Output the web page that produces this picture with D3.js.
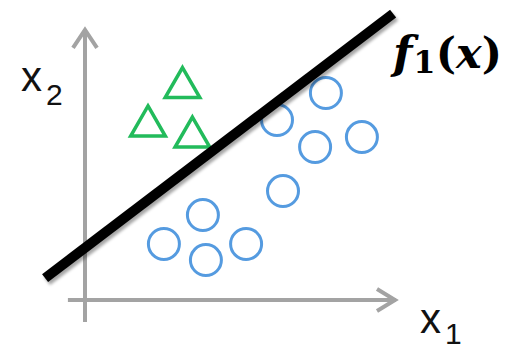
<!DOCTYPE html>
<html>
<head>
<meta charset="utf-8">
<script src="https://cdn.jsdelivr.net/npm/d3@7"></script>
<style>
  body { margin: 0; background: #fff; }
  svg { display: block; }
</style>
</head>
<body>
<div id="chart"></div>
<script>
// class A points (green triangles), data units
var triX = [3.25, 2.1, 3.58];
var triY = [7.08, 5.8, 5.43];
// class B points (blue circles)
var circX = [2.63, 3.93, 4.03, 5.37, 6.6, 6.4, 7.67, 8.03, 9.23];
var circY = [1.87, 2.83, 1.33, 1.87, 3.63, 6.0, 5.1, 6.9, 5.43];
// decision boundary f1(x): y = slope * x + intercept, drawn over lineX
var slope = 0.76;
var intercept = 1.74;
var lineX = [-1.33, 10.27];
// axis extents
var xAxisExtent = [-0.57, 10.4];
var yAxisExtent = [-0.73, 9.07];

var width = 519, height = 348;

// 30px per unit, origin at (85, 300)
var x = d3.scaleLinear().domain([0, 10]).range([85, 385]);
var y = d3.scaleLinear().domain([0, 9]).range([300, 30]);

var svg = d3.select("#chart").append("svg")
    .attr("width", width)
    .attr("height", height);

var defs = svg.append("defs");
defs.append("filter").attr("id", "shadow")
    .attr("x", "-10%").attr("y", "-10%").attr("width", "130%").attr("height", "130%")
    .append("feDropShadow")
    .attr("dx", 2).attr("dy", 3).attr("stdDeviation", 1.8)
    .attr("flood-color", "#000").attr("flood-opacity", 0.35);

var axisColor = "#a3a3a3";

// y axis with open arrow head
svg.append("line")
    .attr("x1", x(0)).attr("x2", x(0))
    .attr("y1", y(yAxisExtent[0])).attr("y2", y(yAxisExtent[1]) + 1)
    .attr("stroke", axisColor).attr("stroke-width", 4);
svg.append("path")
    .attr("d", "M" + (x(0) - 12) + "," + (y(yAxisExtent[1]) + 20)
      + "L" + x(0) + "," + (y(yAxisExtent[1]) + 2)
      + "L" + (x(0) + 12) + "," + (y(yAxisExtent[1]) + 20))
    .attr("fill", "none").attr("stroke", axisColor).attr("stroke-width", 4);

// x axis with open arrow head
svg.append("line")
    .attr("x1", x(xAxisExtent[0])).attr("x2", x(xAxisExtent[1]) - 1)
    .attr("y1", y(0)).attr("y2", y(0))
    .attr("stroke", axisColor).attr("stroke-width", 4);
svg.append("path")
    .attr("d", "M" + (x(xAxisExtent[1]) - 20) + "," + (y(0) - 11)
      + "L" + (x(xAxisExtent[1]) - 2) + "," + y(0)
      + "L" + (x(xAxisExtent[1]) - 20) + "," + (y(0) + 11))
    .attr("fill", "none").attr("stroke", axisColor).attr("stroke-width", 4);

// circles
svg.selectAll(".circ")
    .data(circX.map(function(d, i) { return [d, circY[i]]; }))
    .enter().append("circle")
    .attr("class", "circ")
    .attr("cx", function(d) { return x(d[0]); })
    .attr("cy", function(d) { return y(d[1]); })
    .attr("r", 15.5)
    .attr("fill", "none")
    .attr("stroke", "#559be0")
    .attr("stroke-width", 3);

// triangles
var tri = d3.symbol().type(d3.symbolTriangle).size(520);
svg.selectAll(".tri")
    .data(triX.map(function(d, i) { return [d, triY[i]]; }))
    .enter().append("path")
    .attr("class", "tri")
    .attr("d", tri)
    .attr("transform", function(d) {
      return "translate(" + x(d[0]) + "," + y(d[1]) + ")";
    })
    .attr("fill", "none")
    .attr("stroke", "#22bb5b")
    .attr("stroke-width", 3.5);

// decision boundary
svg.append("line")
    .attr("x1", x(lineX[0])).attr("y1", y(slope * lineX[0] + intercept))
    .attr("x2", x(lineX[1])).attr("y2", y(slope * lineX[1] + intercept))
    .attr("stroke", "#000").attr("stroke-width", 10)
    .attr("filter", "url(#shadow)");

// labels
var f = svg.append("text")
    .attr("x", 393).attr("y", 68)
    .attr("font-family", "'DejaVu Serif', serif")
    .attr("font-weight", "bold")
    .attr("fill", "#000");
f.append("tspan").attr("font-style", "italic").attr("font-size", 45).text("f");
f.append("tspan").attr("font-size", 32).attr("dy", 5).attr("dx", 1).text("1");
f.append("tspan").attr("font-size", 43).attr("dy", -5).text("(");
f.append("tspan").attr("font-style", "italic").attr("font-size", 43).text("x");
f.append("tspan").attr("font-size", 43).text(")");

var xl2 = svg.append("text")
    .attr("x", 21).attr("y", 91)
    .attr("font-family", "'Liberation Sans', sans-serif")
    .attr("fill", "#111");
xl2.append("tspan").attr("font-size", 42).text("x");
xl2.append("tspan").attr("font-size", 30).attr("dx", 4).attr("dy", 14).text("2");

var xl1 = svg.append("text")
    .attr("x", 420).attr("y", 333)
    .attr("font-family", "'Liberation Sans', sans-serif")
    .attr("fill", "#111");
xl1.append("tspan").attr("font-size", 42).text("x");
xl1.append("tspan").attr("font-size", 30).attr("dx", 4).attr("dy", 11).text("1");
</script>
</body>
</html>
